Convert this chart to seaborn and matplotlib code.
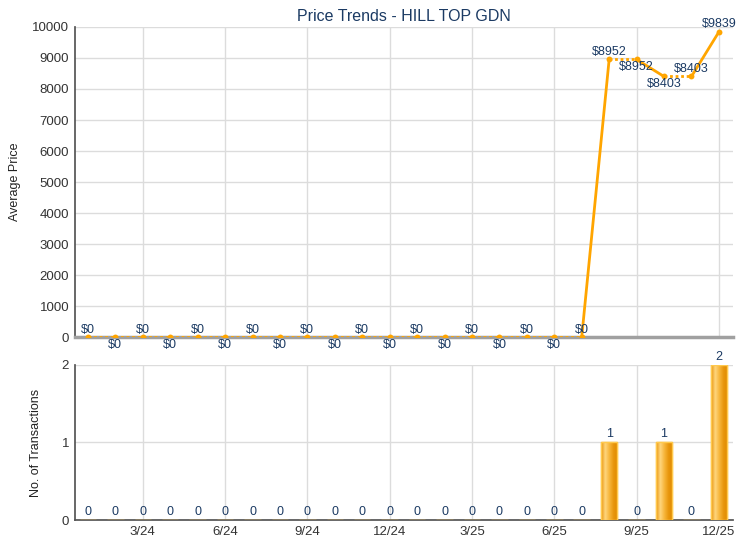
import numpy as np
import pandas as pd
import matplotlib
matplotlib.use("Agg")
import matplotlib.pyplot as plt
from matplotlib.colors import LinearSegmentedColormap
import seaborn as sns

# ---- data ----
months = ["1/24", "2/24", "3/24", "4/24", "5/24", "6/24", "7/24", "8/24", "9/24", "10/24",
          "11/24", "12/24", "1/25", "2/25", "3/25", "4/25", "5/25", "6/25", "7/25", "8/25",
          "9/25", "10/25", "11/25", "12/25"]
avg_price = [0, 0, 0, 0, 0, 0, 0, 0, 0, 0, 0, 0, 0, 0, 0, 0, 0, 0, 0,
             8952, 8952, 8403, 8403, 9839]
transactions = [0, 0, 0, 0, 0, 0, 0, 0, 0, 0, 0, 0, 0, 0, 0, 0, 0, 0, 0,
                1, 0, 1, 0, 2]
tick_labels = ["3/24", "6/24", "9/24", "12/24", "3/25", "6/25", "9/25", "12/25"]
title = "Price Trends - HILL TOP GDN"

# label placement (style): +1 above, -1 below
label_side = [1, -1] * 9 + [1] + [1, -1, -1, 1, 1]

sns.set_theme(style="white")
plt.rcParams["font.family"] = ["Liberation Sans", "DejaVu Sans"]

navy = "#1b3a63"
orange = "#FFA500"
grid_c = "#dcdcdc"

df = pd.DataFrame({"x": np.arange(len(months)), "month": months,
                   "price": avg_price, "count": transactions})

fig = plt.figure(figsize=(7.4, 5.5), dpi=100)
ax1 = fig.add_axes([0.101, 0.387, 0.889, 0.564])
ax2 = fig.add_axes([0.101, 0.0545, 0.889, 0.282])

tick_pos = [months.index(t) for t in tick_labels]

for ax in (ax1, ax2):
    ax.set_xlim(-0.48, len(months) - 0.5)
    ax.set_facecolor("white")
    ax.set_xticks(tick_pos)
    ax.grid(True, color=grid_c, linewidth=1)
    ax.set_axisbelow(True)
    for s in ("top", "right"):
        ax.spines[s].set_visible(False)
    ax.spines["left"].set_color("#555555")
    ax.tick_params(axis="both", labelsize=9.5, colors="#333333", length=0, pad=4)

# ---- top: price line ----
ax1.set_ylim(0, 10000)
ax1.set_yticks(np.arange(0, 10001, 1000))
ax1.set_xticklabels([])
ax1.spines["bottom"].set_color("#a0a0a0")
ax1.spines["bottom"].set_linewidth(2.5)

x = df["x"].values
y = df["price"].values
c = df["count"].values
for i in range(1, len(x)):
    solid = c[i] > 0
    ax1.plot(x[i-1:i+1], y[i-1:i+1], color=orange,
             linewidth=2,
             linestyle="-" if solid else (0, (1, 1)),
             solid_capstyle="round", zorder=3)
sns.scatterplot(data=df, x="x", y="price", ax=ax1, color=orange, s=18,
                edgecolor=orange, linewidth=0, zorder=4, legend=False)
for xi, yi, side in zip(x, y, label_side):
    ax1.annotate(f"${yi}", (xi, yi), xytext=(0, 5.5 * side), textcoords="offset points",
                 ha="center", va="center", fontsize=9, color=navy, zorder=5)
ax1.set_xlabel("")
ax1.set_ylabel("Average Price", fontsize=9, color="#222222", labelpad=8)
ax1.set_title(title, fontsize=11.5, color=navy, pad=4)

# ---- bottom: transactions ----
sns.barplot(data=df, x="x", y="count", ax=ax2, native_scale=True, width=0.6,
            color="#F5A818", edgecolor="#FFC94D", linewidth=1, saturation=1, zorder=3)
ax2.set_ylim(0, 2)
ax2.set_yticks([0, 1, 2])

# gradient fill on bars
grad_cmap = LinearSegmentedColormap.from_list(
    "bar", ["#E8920A", "#FFD67E", "#F7B53A", "#E8960C", "#E08A00"])
grad = np.linspace(0, 1, 64).reshape(1, -1)
for p in list(ax2.patches):
    h = p.get_height()
    if h <= 0:
        continue
    x0, w = p.get_x(), p.get_width()
    im = ax2.imshow(grad, cmap=grad_cmap, aspect="auto",
                    extent=(x0, x0 + w, 0, h), zorder=3.5, interpolation="bilinear")
    im.set_clip_path(p)
    ax2.add_patch(plt.Rectangle((x0, 0), w, h, fill=False, edgecolor="#FFC94D",
                                linewidth=1, zorder=3.6))

ax2.set_xlim(-0.48, len(months) - 0.5)
ax2.set_ylim(0, 2)
ax2.set_xticks(tick_pos)
ax2.set_xticklabels(tick_labels)
ax2.spines["bottom"].set_color("#555555")
for xi, ci in zip(x, c):
    ax2.annotate(f"{ci}", (xi, ci), xytext=(0, 6), textcoords="offset points",
                 ha="center", va="center", fontsize=9, color=navy, zorder=5)
ax2.set_xlabel("")
ax2.set_ylabel("No. of Transactions", fontsize=9, color="#222222", labelpad=14)

fig.savefig("out.png", dpi=100)
